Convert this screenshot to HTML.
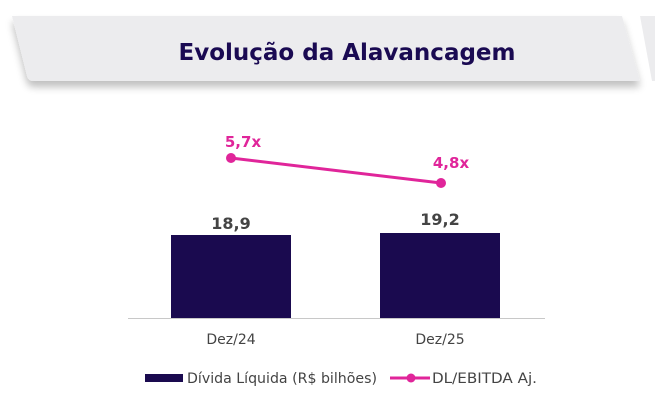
<!DOCTYPE html>
<html><head><meta charset="utf-8"><style>
body{margin:0;width:655px;height:403px;background:#fff;overflow:hidden;font-family:"Liberation Sans","DejaVu Sans",sans-serif}
</style></head><body>
<svg width="655" height="403" viewBox="0 0 655 403" xmlns="http://www.w3.org/2000/svg">
<defs><filter id="s" x="-5%" y="-20%" width="110%" height="160%"><feGaussianBlur in="SourceAlpha" stdDeviation="4"/><feOffset dy="6"/><feComponentTransfer><feFuncA type="linear" slope="0.25"/></feComponentTransfer><feMerge><feMergeNode/><feMergeNode in="SourceGraphic"/></feMerge></filter></defs>
<path d="M12,16 L622,16 L640,81 L34,81 Q28,81 27,76 Z" fill="#ececee" filter="url(#s)"/>
<path d="M640,16 L655,16 L655,81 L652,81 Z" fill="#ececee"/>
<text x="347" y="60" text-anchor="middle" font-family="DejaVu Sans,sans-serif" font-weight="bold" font-size="23" fill="#1a0a52">Evolução da Alavancagem</text>
<rect x="171" y="235" width="120" height="83" fill="#1a0a4f"/>
<rect x="380" y="233" width="120" height="85" fill="#1a0a4f"/>
<line x1="128" y1="318.5" x2="545" y2="318.5" stroke="#c8c8c8" stroke-width="1"/>
<text x="231" y="229" text-anchor="middle" font-family="DejaVu Sans,sans-serif" font-weight="bold" font-size="16" fill="#444">18,9</text>
<text x="440" y="225" text-anchor="middle" font-family="DejaVu Sans,sans-serif" font-weight="bold" font-size="16" fill="#444">19,2</text>
<line x1="231" y1="158" x2="441" y2="183" stroke="#e0259a" stroke-width="3"/>
<circle cx="231" cy="158" r="5" fill="#e0259a"/>
<circle cx="441" cy="183" r="5" fill="#e0259a"/>
<text x="243" y="147" text-anchor="middle" font-family="DejaVu Sans,sans-serif" font-weight="bold" font-size="15" fill="#e0259a">5,7x</text>
<text x="451" y="168" text-anchor="middle" font-family="DejaVu Sans,sans-serif" font-weight="bold" font-size="15" fill="#e0259a">4,8x</text>
<text x="231" y="344" text-anchor="middle" font-family="DejaVu Sans,sans-serif" font-size="14" fill="#444">Dez/24</text>
<text x="440" y="344" text-anchor="middle" font-family="DejaVu Sans,sans-serif" font-size="14" fill="#444">Dez/25</text>
<rect x="145" y="374" width="38" height="8" fill="#1a0a4f"/>
<text x="187" y="383" font-family="DejaVu Sans,sans-serif" font-size="14" fill="#444" textLength="190" lengthAdjust="spacingAndGlyphs">Dívida Líquida (R$ bilhões)</text>
<line x1="390" y1="378" x2="430" y2="378" stroke="#e0259a" stroke-width="3"/>
<circle cx="411" cy="378" r="4.5" fill="#e0259a"/>
<text x="432" y="383" font-family="DejaVu Sans,sans-serif" font-size="14" fill="#444" textLength="105" lengthAdjust="spacingAndGlyphs">DL/EBITDA Aj.</text>
</svg>
</body></html>
